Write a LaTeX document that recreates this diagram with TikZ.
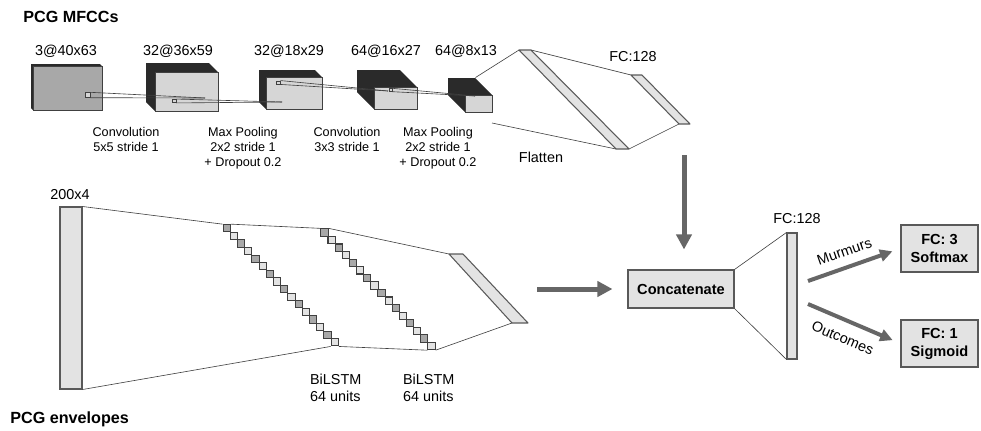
\documentclass[tikz,border=0pt]{standalone}
\usepackage{fontspec}
\setmainfont{Liberation Sans}
\usepackage{xcolor}
\usepackage{tikz}
\usetikzlibrary{calc}
\usetikzlibrary{arrows.meta}
\usetikzlibrary{positioning}
\definecolor{linegrey}{HTML}{404040}
\definecolor{boxgrey}{HTML}{595959}
\definecolor{arrowgrey}{HTML}{666666}
\definecolor{paleface}{HTML}{E3E3E3}
\definecolor{midface}{HTML}{A8A8A8}
\definecolor{cubeface}{HTML}{D6D6D6}
\definecolor{cubeside}{HTML}{2A2A2A}
\tikzset{>=latex}
\tikzstyle{lbl} = [draw=none, inner sep=1, font=\fontsize{8.2}{9.6}\selectfont, align=center]
\tikzstyle{oplbl} = [draw=none, inner sep=1, font=\fontsize{7.2}{8.6}\selectfont, align=center]
\tikzstyle{ttl} = [draw=none, inner sep=0, font=\fontsize{9.2}{11}\selectfont\bfseries]
\tikzstyle{bx} = [draw=boxgrey, fill=paleface, line width=0.6pt, inner sep=0, align=center, font=\fontsize{8.3}{10.2}\selectfont\bfseries]
\tikzstyle{colbar} = [draw=boxgrey, fill=paleface, line width=0.6pt, inner sep=0]
\tikzstyle{slab} = [draw=boxgrey, fill=paleface, line width=0.6pt, line join=round]
\tikzstyle{wire} = [-, draw=linegrey, line width=0.35pt]
\tikzstyle{cell} = [draw=linegrey, line width=0.6pt, minimum size=0.145cm, inner sep=0]
\tikzstyle{kern} = [draw=linegrey, fill=cubeface, line width=0.5pt, inner sep=0]
\tikzstyle{bigarrow} = [-{Triangle[length=0.3cm, width=0.3cm]}, draw=arrowgrey, fill=arrowgrey, line width=0.1cm]
\tikzstyle{smallarrow} = [-{Triangle[length=0.25cm, width=0.24cm]}, draw=arrowgrey, fill=arrowgrey, line width=0.08cm]
% feature map: name, x1, y1, x2, y2, depth, face colour
\newcommand{\featmap}[7]{%
  \fill [cubeside] (#2-#6, #3-#6) -- (#4-#6, #3-#6) -- (#4, #3) -- (#4, #5) -- (#2, #5) -- (#2-#6, #5-#6) -- cycle;
  \node [draw=linegrey, fill=#7, line width=0.5pt, inner sep=0, minimum width={(#4-#2)*0.02cm}, minimum height={(#5-#3)*0.02cm}] (#1) at ({(#2+#4)/2}, {(#3+#5)/2}) {};
}

\begin{document}
\begin{tikzpicture}[x=0.02cm, y=-0.02cm]
\useasboundingbox (0, 0) rectangle (981, 430);

% MFCC branch
\node [ttl, anchor=base west] (mfcc) at (23, 22) {PCG MFCCs};
\featmap{m1}{33}{66}{102}{110}{2}{midface}
\featmap{m2}{155}{72}{218}{111}{9}{cubeface}
\featmap{m3}{266}{77}{322}{109}{7}{cubeface}
\featmap{m4}{374}{87}{417}{109}{17}{cubeface}
\featmap{m5}{465}{95}{492}{112}{17}{cubeface}
\node [lbl] (s1) at (66, 51) {3@40x63};
\node [lbl] (s2) at (178, 51) {32@36x59};
\node [lbl] (s3) at (289, 51) {32@18x29};
\node [lbl] (s4) at (386, 51) {64@16x27};
\node [lbl] (s5) at (466, 51) {64@8x13};
\node [kern, minimum width=0.1cm, minimum height=0.09cm] (k1) at (87.5, 95) {};
\node [kern, minimum width=0.08cm, minimum height=0.06cm] (k2) at (174, 101) {};
\node [kern, minimum width=0.08cm, minimum height=0.06cm] (k3) at (278, 82.5) {};
\node [kern, minimum width=0.06cm, minimum height=0.05cm] (k4) at (390.5, 90) {};
\coordinate (t1) at (205, 98);
\coordinate (t2) at (282, 102);
\coordinate (t3) at (388, 91);
\coordinate (t4) at (475, 96);
\foreach \k/\t in {k1/t1, k2/t2, k3/t3, k4/t4} {
  \draw [wire] (\k.north east) to (\t);
  \draw [wire] (\k.south east) to (\t);
}
\node [oplbl, anchor=north] (op1) at (126, 125) {Convolution\\5x5 stride 1};
\node [oplbl, anchor=north] (op2) at (243, 125) {Max Pooling\\2x2 stride 1\\+ Dropout 0.2};
\node [oplbl, anchor=north] (op3) at (347, 125) {Convolution\\3x3 stride 1};
\node [oplbl, anchor=north] (op4) at (438, 125) {Max Pooling\\2x2 stride 1\\+ Dropout 0.2};

% flatten and dense
\coordinate (f1) at (519, 50);
\coordinate (f2) at (531, 50);
\coordinate (f3) at (629, 149);
\coordinate (f4) at (616, 149);
\coordinate (g1) at (631, 75);
\coordinate (g2) at (642, 75);
\coordinate (g3) at (690, 124);
\coordinate (g4) at (679, 124);
\coordinate (flo) at (492, 123);
\draw [slab] (f1) -- (f2) -- (f3) -- (f4) -- cycle;
\draw [slab] (g1) -- (g2) -- (g3) -- (g4) -- cycle;
\draw [wire] ($(m5.north east)+(-17, -17)$) to (f1);
\draw [wire] (flo) to (f4);
\draw [wire] (f2) to (g1);
\draw [wire] (f3) to (g4);
\node [lbl] (flat) at (541, 157) {Flatten};
\node [lbl] (fc1) at (633, 57) {FC:128};

% envelope branch
\node [colbar, minimum width=0.44cm, minimum height=3.64cm] (env) at (71, 298) {};
\node [lbl] (s6) at (70, 195) {200x4};
\node [ttl, anchor=base west] (envtitle) at (10, 423) {PCG envelopes};
\foreach \i in {0,...,15} {
  \ifodd\i \def\tone{paleface}\else \def\tone{midface}\fi
  \node [cell, fill=\tone] (a\i) at (226.7+7.2*\i, 228.3+7.6*\i) {};
  \node [cell, fill=\tone] (b\i) at (324.5+7.13*\i, 232.5+7.57*\i) {};
}
\coordinate (h1) at (449, 254);
\coordinate (h2) at (463, 254);
\coordinate (h3) at (528, 323);
\coordinate (h4) at (512, 323);
\draw [slab] (h1) -- (h2) -- (h3) -- (h4) -- cycle;
\draw [wire] (env.north east) to (a0.north west);
\draw [wire] (env.south east) to (a15.south west);
\draw [wire] (a0.north east) to (b0.north west);
\draw [wire] (a15.south east) to (b15.south west);
\draw [wire] (b0.north east) to (h1);
\draw [wire] (b15.south east) to (h4);
\node [lbl, align=left, anchor=west] (lstm1) at (308, 388) {BiLSTM\\64 units};
\node [lbl, align=left, anchor=west] (lstm2) at (401, 388) {BiLSTM\\64 units};

% merge and heads
\node [bx, minimum width=2.12cm, minimum height=0.76cm] (cat) at (681, 289) {Concatenate};
\coordinate (envout) at (537, 289);
\coordinate (cnnout) at (684, 155);
\draw [bigarrow, shorten >=0.3cm] (envout) to (cat.west);
\draw [bigarrow, shorten >=0.4cm] (cnnout) to (cnnout |- cat.north);
\node [colbar, minimum width=0.2cm, minimum height=2.52cm] (fcbar) at (792, 296) {};
\node [lbl] (fc2) at (797, 219) {FC:128};
\draw [wire] (cat.north east) to (fcbar.north west);
\draw [wire] (cat.south east) to (fcbar.south west);
\node [bx, minimum width=1.54cm, minimum height=0.94cm] (fcthree) at (939.5, 248.5) {FC: 3\\Softmax};
\node [bx, minimum width=1.54cm, minimum height=0.94cm] (fcone) at (939.5, 343.5) {FC: 1\\Sigmoid};
\coordinate (mstart) at (808, 281);
\coordinate (ostart) at (808, 304);
\draw [smallarrow, shorten >=0.17cm] (mstart) to node [lbl, sloped, above=4pt, pos=0.45] {Murmurs} (fcthree.west);
\draw [smallarrow, shorten >=0.17cm] (ostart) to node [lbl, sloped, below=5pt, pos=0.45] {Outcomes} (fcone.west);
\end{tikzpicture}
\end{document}
